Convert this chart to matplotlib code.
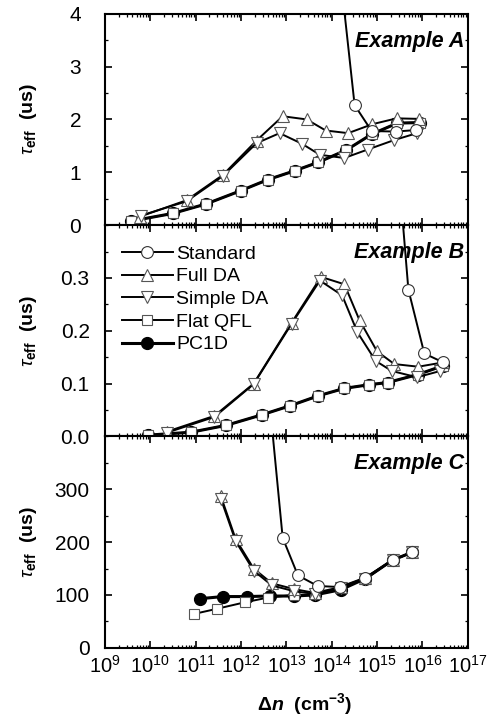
import matplotlib
matplotlib.use("Agg")
import matplotlib.pyplot as plt
from matplotlib.ticker import LogLocator, MultipleLocator, NullFormatter

plt.rcParams['font.family'] = ['Liberation Sans', 'DejaVu Sans']
plt.rcParams['mathtext.fontset'] = 'custom'
plt.rcParams['mathtext.rm'] = 'Liberation Sans'
plt.rcParams['mathtext.it'] = 'Liberation Sans:italic'
plt.rcParams['mathtext.bf'] = 'Liberation Sans:bold'
plt.rcParams['mathtext.bfit'] = 'Liberation Sans:italic:bold'

# ---- Example A (tau in us) ----
a_flat_x = [3.7e9, 3.1e10, 1.7e11, 9.8e11, 3.9e12, 1.55e13, 5.1e13, 2.1e14, 7.6e14, 2.8e15, 8.9e15]
a_flat_y = [0.075, 0.22, 0.40, 0.65, 0.86, 1.03, 1.19, 1.42, 1.72, 1.93, 1.94]
a_pc1d_x = a_flat_x
a_pc1d_y = [0.075, 0.22, 0.40, 0.65, 0.86, 1.03, 1.19, 1.42, 1.72, 1.93, 1.94]
a_full_x = [5.9e9, 6.3e10, 4.0e11, 2.2e12, 8.3e12, 2.8e13, 7.4e13, 2.3e14, 7.9e14, 2.7e15, 8.5e15]
a_full_y = [0.16, 0.47, 0.95, 1.60, 2.06, 2.00, 1.79, 1.74, 1.91, 2.02, 2.01]
a_simple_x = [6.2e9, 6.3e10, 4.0e11, 2.2e12, 7.1e12, 2.2e13, 5.5e13, 1.9e14, 6.2e14, 2.4e15, 7.6e15]
a_simple_y = [0.18, 0.45, 0.93, 1.55, 1.74, 1.54, 1.33, 1.27, 1.43, 1.61, 1.74]
a_std_x = [9.0e13, 3.2e14, 7.6e14, 2.6e15, 7.4e15]
a_std_y = [6.6, 2.27, 1.78, 1.77, 1.80]

# ---- Example B ----
b_flat_x = [9.1e9, 7.9e10, 4.7e11, 2.9e12, 1.2e13, 5.1e13, 1.9e14, 6.8e14, 1.7e15, 7.8e15, 2.9e16]
b_flat_y = [0.0025, 0.008, 0.021, 0.041, 0.058, 0.077, 0.091, 0.098, 0.102, 0.117, 0.134]
b_pc1d_x = b_flat_x
b_pc1d_y = [0.0025, 0.008, 0.021, 0.041, 0.058, 0.077, 0.091, 0.098, 0.102, 0.117, 0.134]
b_full_x = [2.3e10, 2.6e11, 1.9e12, 1.3e13, 5.8e13, 1.9e14, 4.1e14, 1.0e15, 2.4e15, 8.1e15, 2.8e16]
b_full_y = [0.009, 0.039, 0.100, 0.215, 0.302, 0.288, 0.220, 0.161, 0.137, 0.132, 0.140]
b_simple_x = [2.3e10, 2.6e11, 1.9e12, 1.3e13, 5.5e13, 1.7e14, 3.7e14, 9.3e14, 2.1e15, 7.6e15, 2.5e16]
b_simple_y = [0.007, 0.037, 0.099, 0.213, 0.295, 0.267, 0.197, 0.143, 0.124, 0.112, 0.124]
b_std_x = [2.2e15, 4.9e15, 1.1e16, 2.9e16]
b_std_y = [0.64, 0.278, 0.157, 0.140]

# ---- Example C ----
c_flat_x = [9.1e10, 3.0e11, 1.2e12, 3.9e12, 1.45e13, 4.2e13, 1.6e14, 5.5e14, 2.2e15, 6.0e15]
c_flat_y = [64, 74, 86, 95, 100, 101, 114, 131, 166, 181]
c_pc1d_x = [1.26e11, 4.0e11, 1.35e12, 4.3e12, 1.45e13, 4.2e13, 1.6e14, 5.5e14, 2.2e15, 6.0e15]
c_pc1d_y = [93, 97, 97, 98, 98, 100, 110, 131, 166, 181]
c_full_x = [3.6e11, 7.6e11, 1.9e12, 4.8e12, 1.5e13, 4.2e13, 1.6e14, 5.5e14, 2.2e15, 6.0e15]
c_full_y = [287, 206, 150, 122, 111, 104, 115, 132, 166, 181]
c_simple_x = c_full_x
c_simple_y = [282, 202, 146, 118, 107, 102, 113, 130, 166, 181]
c_std_x = [4.0e12, 8.3e12, 1.8e13, 4.9e13, 1.5e14, 5.5e14, 2.2e15, 6.0e15]
c_std_y = [490, 208, 137, 117, 115, 133, 166, 181]


def draw(ax, flat, pc1d, full, simple, std):
    ax.plot(*pc1d, '-', color='black', lw=2.2, marker='o', ms=8.5,
            mfc='black', mec='black', label='PC1D', zorder=3, clip_on=False)
    ax.plot(*flat, '-', color='black', lw=1.4, marker='s', ms=6.5,
            mfc='white', mec='#555555', mew=0.8, label='Flat QFL', zorder=4, clip_on=False)
    ax.plot(*full, '-', color='black', lw=1.4, marker='^', ms=8,
            mfc='white', mec='#555555', mew=0.8, label='Full DA', zorder=4, clip_on=False)
    ax.plot(*simple, '-', color='black', lw=1.4, marker='v', ms=8,
            mfc='white', mec='#555555', mew=0.8, label='Simple DA', zorder=4, clip_on=False)
    ax.plot(*std, '-', color='black', lw=1.4, marker='o', ms=8.5,
            mfc='white', mec='#333333', mew=0.8, label='Standard', zorder=5)


fig, axes = plt.subplots(3, 1, sharex=True, figsize=(4.95, 7.23), dpi=100)
fig.subplots_adjust(left=0.212, right=0.945, bottom=0.104, top=0.981, hspace=0)
axA, axB, axC = axes

draw(axA, (a_flat_x, a_flat_y), (a_pc1d_x, a_pc1d_y), (a_full_x, a_full_y),
     (a_simple_x, a_simple_y), (a_std_x, a_std_y))
draw(axB, (b_flat_x, b_flat_y), (b_pc1d_x, b_pc1d_y), (b_full_x, b_full_y),
     (b_simple_x, b_simple_y), (b_std_x, b_std_y))
draw(axC, (c_flat_x, c_flat_y), (c_pc1d_x, c_pc1d_y), (c_full_x, c_full_y),
     (c_simple_x, c_simple_y), (c_std_x, c_std_y))

axA.set_ylim(0, 4)
axA.yaxis.set_major_locator(MultipleLocator(1))
axA.yaxis.set_minor_locator(MultipleLocator(0.5))
axB.set_ylim(0, 0.4)
axB.set_yticks([0.0, 0.1, 0.2, 0.3])
axB.set_yticklabels(['0.0', '0.1', '0.2', '0.3'])
axB.yaxis.set_minor_locator(MultipleLocator(0.05))
axC.set_ylim(0, 400)
axC.set_yticks([0, 100, 200, 300])
axC.yaxis.set_minor_locator(MultipleLocator(50))

for ax, name in zip(axes, ['A', 'B', 'C']):
    ax.set_xscale('log')
    ax.set_xlim(1e9, 1e17)
    ax.xaxis.set_major_locator(LogLocator(base=10, numticks=20))
    ax.xaxis.set_minor_locator(LogLocator(base=10, subs=range(2, 10), numticks=20))
    ax.xaxis.set_minor_formatter(NullFormatter())
    ax.tick_params(which='both', direction='in', top=True, right=True)
    ax.tick_params(axis='x', labelsize=14.5, pad=5)
    ax.tick_params(axis='y', labelsize=15, pad=11)
    ax.tick_params(which='major', length=5, width=1.2)
    ax.tick_params(which='minor', length=2.5, width=0.9)
    for sp in ax.spines.values():
        sp.set_linewidth(1.5)
    ax.set_ylabel(r'$\tau_{\mathbf{eff}}$  (us)', fontsize=14, fontweight='bold')
    ax.yaxis.set_label_coords(-0.182, 0.5)
    ax.text(0.99, 0.87, 'Example ' + name, transform=ax.transAxes, ha='right', va='center',
            fontsize=15.5, fontweight='bold', style='italic')

axA.tick_params(axis='y', pad=17)

axC.set_xlabel(r'$\mathbf{\Delta}\mathbfit{n}$  (cm$^{\mathbf{-3}}$)', fontsize=14,
               fontweight='bold', labelpad=9)
axC.xaxis.set_label_coords(0.55, -0.205)

handles, labels = axB.get_legend_handles_labels()
order = ['Standard', 'Full DA', 'Simple DA', 'Flat QFL', 'PC1D']
hmap = dict(zip(labels, handles))
axB.legend([hmap[k] for k in order], order, loc='upper left', frameon=False,
           fontsize=14, handlelength=2.6, labelspacing=0.26, handletextpad=0.2,
           borderaxespad=0.2, bbox_to_anchor=(0.015, 0.96))

fig.savefig('out.png', dpi=100)
